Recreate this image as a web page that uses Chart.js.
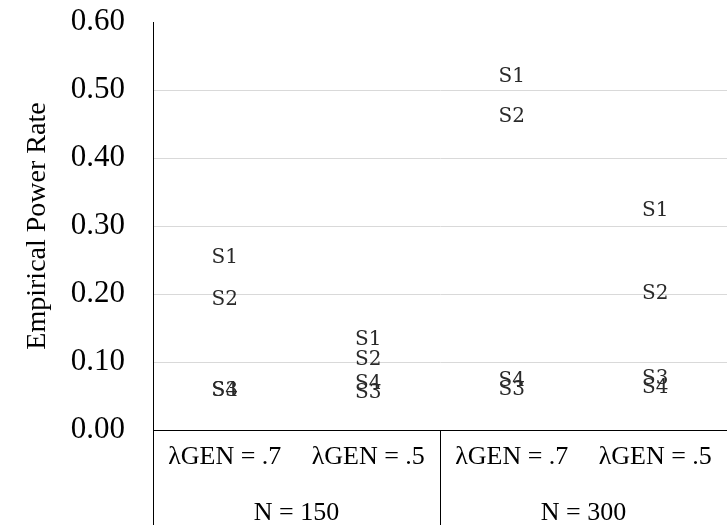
<!DOCTYPE html>
<html>
<head>
<meta charset="utf-8">
<title>Empirical Power Rate</title>
<script src="https://cdn.jsdelivr.net/npm/chart.js@4"></script>
<style>
  html, body { margin: 0; padding: 0; background: #fff; }
  #wrap { width: 727px; height: 525px; }
</style>
</head>
<body>
<div id="wrap"><canvas id="c" width="727" height="525"></canvas></div>
<script>
// Conditions (inner level) and sample-size groups (outer level)
const conditions = ['λGEN = .7', 'λGEN = .5', 'λGEN = .7', 'λGEN = .5'];
const groups = ['N = 150', 'N = 300'];
const conditionsPerGroup = 2;

// Empirical power rate per scenario
const s1 = [0.253, 0.132, 0.520, 0.322];
const s2 = [0.191, 0.103, 0.460, 0.201];
const s3 = [0.058, 0.055, 0.059, 0.075];
const s4 = [0.057, 0.068, 0.072, 0.062];

const yTicks = { min: 0, max: 0.6, step: 0.1 };

const SERIF = '"Liberation Serif", "Times New Roman", serif';

// Each point is drawn as its scenario name instead of a marker
const textMarkers = {
  id: 'textMarkers',
  afterDatasetsDraw(chart) {
    const ctx = chart.ctx;
    ctx.save();
    ctx.font = '20px "DejaVu Serif", serif';
    ctx.fillStyle = '#2a2a2a';
    ctx.textAlign = 'center';
    ctx.textBaseline = 'middle';
    chart.data.datasets.forEach((ds, i) => {
      const meta = chart.getDatasetMeta(i);
      meta.data.forEach(pt => ctx.fillText(ds.label, pt.x, pt.y));
    });
    ctx.restore();
  }
};

// Two-level category table under the plot
const groupTable = {
  id: 'groupTable',
  afterDraw(chart) {
    const ctx = chart.ctx;
    const x = chart.scales.x;
    const area = chart.chartArea;
    const bottom = chart.height;
    ctx.save();
    ctx.strokeStyle = '#000';
    ctx.lineWidth = 1;
    // left edge of the table continues the y axis line
    ctx.beginPath();
    ctx.moveTo(Math.round(area.left) + 0.5, area.bottom);
    ctx.lineTo(Math.round(area.left) + 0.5, bottom);
    ctx.stroke();
    ctx.font = '26px ' + SERIF;
    ctx.fillStyle = '#000';
    ctx.textAlign = 'center';
    ctx.textBaseline = 'alphabetic';
    groups.forEach((g, gi) => {
      const first = gi * conditionsPerGroup;
      const last = first + conditionsPerGroup - 1;
      const half = (x.getPixelForValue(1) - x.getPixelForValue(0)) / 2;
      const left = x.getPixelForValue(first) - half;
      const right = x.getPixelForValue(last) + half;
      if (gi > 0) {
        ctx.beginPath();
        ctx.moveTo(Math.round(left) + 0.5, area.bottom);
        ctx.lineTo(Math.round(left) + 0.5, bottom);
        ctx.stroke();
      }
      ctx.fillText(g, (left + right) / 2, 520);
    });
    ctx.restore();
  }
};

const mk = (label, data) => ({
  label, data, showLine: false, pointRadius: 0, pointHoverRadius: 0
});

new Chart(document.getElementById('c'), {
  type: 'line',
  data: {
    labels: conditions,
    datasets: [mk('S1', s1), mk('S2', s2), mk('S3', s3), mk('S4', s4)]
  },
  options: {
    responsive: false,
    animation: false,
    devicePixelRatio: 1,
    layout: { padding: { top: 22, right: 0, left: 0, bottom: 0 } },
    plugins: { legend: { display: false }, tooltip: { enabled: false } },
    scales: {
      x: {
        type: 'category',
        offset: true,
        grid: { display: false, drawTicks: false },
        border: { display: true, color: '#000', width: 1 },
        ticks: {
          color: '#000',
          font: { family: SERIF, size: 26 },
          padding: 12,
          maxRotation: 0,
          autoSkip: false
        },
        afterFit(scale) { scale.height = 95; }
      },
      y: {
        min: yTicks.min,
        max: yTicks.max,
        grid: {
          drawTicks: false,
          color: ctx => (ctx.tick && Math.abs(ctx.tick.value - yTicks.max) < 1e-9) ? 'rgba(0,0,0,0)' : '#d9d9d9',
          lineWidth: 1
        },
        border: { display: true, color: '#000', width: 1 },
        ticks: {
          stepSize: yTicks.step,
          color: '#000',
          font: { family: SERIF, size: 31 },
          padding: 28,
          callback: v => Number(v).toFixed(2)
        },
        title: {
          display: true,
          text: 'Empirical Power Rate',
          color: '#000',
          font: { family: SERIF, size: 28 },
          padding: { top: 21, bottom: 0 }
        },
        afterFit(scale) {
          scale.width = 153;
          // the label gap should not push the plot area down
          scale.paddingTop = 0;
          scale.paddingBottom = 0;
        }
      }
    }
  },
  plugins: [textMarkers, groupTable]
});
</script>
</body>
</html>
